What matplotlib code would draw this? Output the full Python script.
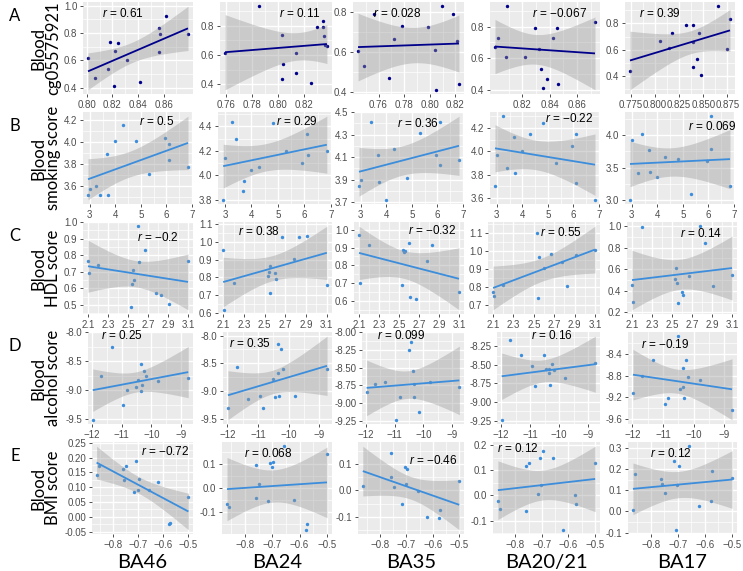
import numpy as np
import matplotlib
matplotlib.use("Agg")
from matplotlib import pyplot as plt

W, H = 743, 571

# Row A: blood cg05575921 (y) against each brain region (x)
cg_x = [
    [0.801, 0.8066, 0.8167, 0.8182, 0.8213, 0.8223, 0.8246, 0.8314, 0.8413, 0.856, 0.857, 0.8565, 0.862, 0.879],
    [0.7595, 0.786, 0.8035, 0.804, 0.8035, 0.8145, 0.814, 0.8255, 0.83, 0.835, 0.835, 0.8355, 0.8368, 0.838],
    [0.744, 0.7488, 0.7567, 0.7679, 0.7723, 0.7783, 0.7985, 0.804, 0.8047, 0.8098, 0.8184, 0.8213, 0.8227],
    [0.80, 0.802, 0.808, 0.809, 0.822, 0.829, 0.832, 0.8336, 0.835, 0.8378, 0.8423, 0.845, 0.846, 0.873],
    [0.7743, 0.805, 0.815, 0.818, 0.8327, 0.839, 0.8393, 0.8393, 0.844, 0.8457, 0.8477, 0.865, 0.8743, 0.8777],
]
cg_y = [
    [0.615, 0.473, 0.534, 0.734, 0.41, 0.671, 0.729, 0.605, 0.441, 0.834, 0.79, 0.663, 0.929, 0.79],
    [0.616, 0.934, 0.736, 0.536, 0.439, 0.611, 0.475, 0.409, 0.791, 0.834, 0.791, 0.732, 0.671, 0.66],
    [0.605, 0.53, 0.79, 0.47, 0.665, 0.73, 0.725, 0.61, 0.41, 0.83, 0.79, 0.655, 0.44],
    [0.67, 0.73, 0.61, 0.93, 0.605, 0.79, 0.66, 0.53, 0.41, 0.47, 0.73, 0.79, 0.44, 0.83],
    [0.44, 0.67, 0.615, 0.73, 0.79, 0.79, 0.66, 0.47, 0.53, 0.73, 0.41, 0.93, 0.605, 0.83],
]

# Rows B-E: shared x per row, one y list per brain region (None = not shown)
smoking_x = [2.93, 3.0, 3.25, 3.4, 3.67, 3.7, 3.97, 4.29, 4.8, 5.32, 5.93, 6.1, 6.12, 6.85]
smoking_y = [
    [3.52, 3.57, 3.60, 3.52, 3.885, 3.52, 4.01, 4.15, 4.01, 3.705, 4.035, 3.98, 3.83, 3.775],
    [3.80, 4.14, 4.44, 4.30, 3.87, 3.95, 4.04, 4.07, 4.43, 4.20, 4.10, 4.34, 4.17, 4.20],
    [3.84, 3.90, None, 4.41, 4.115, 3.88, 3.72, 4.17, 3.915, 4.315, 4.12, 4.41, 4.025, 4.075],
    [3.705, 3.97, 4.30, 3.86, 4.12, 3.81, 4.005, 4.145, 4.24, 3.90, 4.045, 4.145, 3.73, 3.585],
    [3.01, 3.92, 3.42, 4.015, 3.78, 3.44, 3.36, 3.67, 3.63, 3.10, 3.60, 4.29, 3.79, 3.22],
]

hdl_x = [2.1, 2.107, 2.2, 2.53, 2.54, 2.55, 2.555, 2.6, 2.605, 2.67, 2.78, 2.83, 2.91, 3.1]
hdl_y = [
    [0.766, 0.696, 0.74, 0.49, 0.625, 0.71, 0.65, 0.975, 0.762, 0.83, 0.57, 0.56, 0.505, 0.766],
    [0.955, 0.618, 0.77, 0.81, 0.83, 0.865, 0.715, 0.825, 0.79, 1.03, 0.905, 1.03, 1.035, 0.76],
    [0.968, 0.70, 0.916, 0.688, 0.884, 0.875, 0.878, 0.925, 0.622, 0.613, 0.822, 0.912, None, 0.65],
    [0.769, 0.748, 0.812, 1.10, 0.738, 0.965, None, 0.904, None, 0.986, 0.937, 0.803, 0.977, 1.007],
    [0.45, 0.30, 0.99, 0.51, 0.61, 0.47, 0.29, 0.39, 0.36, 0.54, 1.0, 0.84, 0.44, 0.545],
]

alcohol_x = [-11.98, -11.7, -11.33, -10.95, -10.83, -10.52, -10.44, -10.35, -10.34, -10.32, -10.26, -10.17, -9.78, -8.75]
alcohol_y = [
    [-9.52, -8.765, -8.26, -9.25, -8.99, -8.94, -8.83, -8.555, -9.015, -8.91, -8.665, -8.755, -8.845, -8.79],
    [-9.30, -8.565, -9.15, -9.09, -9.31, -8.78, -9.10, -8.16, -8.68, -9.09, -8.25, -8.60, -9.09, -8.61],
    [-8.85, -8.73, -8.70, -9.24, -8.92, -8.25, -8.14, -8.55, -8.73, -8.92, None, -9.13, -8.70, -8.77],
    [-9.24, -8.16, -8.37, -8.51, -8.78, -8.37, -8.55, -8.55, -8.61, -8.77, -8.49, -8.57, -8.68, -8.48],
    [-9.116, -8.806, -8.52, -9.318, -9.217, -8.076, -9.046, -8.653, -9.01, -9.217, -8.506, -8.835, -8.884, -9.442],
]

bmi_x = [-0.865, -0.857, -0.76, -0.758, -0.748, -0.715, -0.707, -0.702, -0.697, -0.657, -0.622, -0.577, -0.572, -0.5]
bmi_y = [
    [0.141, 0.171, 0.162, 0.125, 0.172, 0.083, 0.188, 0.089, 0.127, 0.091, 0.119, -0.026, -0.022, 0.068],
    [-0.066, -0.08, 0.097, -0.041, 0.017, -0.055, 0.104, 0.086, 0.110, 0.174, -0.048, -0.174, -0.149, 0.143],
    [0.017, None, 0.144, 0.051, 0.0125, -0.053, 0.089, 0.026, 0.082, -0.001, -0.10, -0.106, -0.073, 0.0375],
    [-0.024, -0.056, 0.117, -0.063, 0.129, 0.004, 0.147, 0.043, 0.176, 0.149, -0.137, 0.003, -0.036, 0.129],
    [0.008, 0.176, 0.155, 0.131, 0.085, 0.237, -0.087, 0.123, 0.216, 0.308, 0.027, 0.05, 0.19, 0.158],
]

r_labels = [
    ["0.61", "0.11", "0.028", "\u22120.067", "0.39"],
    ["0.5", "0.29", "0.36", "\u22120.22", "0.069"],
    ["\u22120.2", "0.38", "\u22120.32", "0.55", "0.14"],
    ["0.25", "0.35", "0.099", "0.16", "\u22120.19"],
    ["\u22120.72", "0.068", "\u22120.46", "0.12", "0.12"],
]

row_letters = ["A", "B", "C", "D", "E"]
row_titles = ["Blood\ncg05575921", "Blood\nsmoking score", "Blood\nHDL score",
              "Blood\nalcohol score", "Blood\nBMI score"]
col_titles = ["BA46", "BA24", "BA35", "BA20/21", "BA17"]

cg_xticks = [[0.80, 0.82, 0.84, 0.86], [0.76, 0.78, 0.80, 0.82], [0.76, 0.78, 0.80, 0.82],
             [0.82, 0.84, 0.86], [0.775, 0.800, 0.825, 0.850, 0.875]]
cg_yticks = [[0.4, 0.6, 0.8, 1.0], [0.4, 0.6, 0.8], [0.4, 0.6, 0.8], [0.4, 0.6, 0.8], [0.4, 0.6, 0.8]]
smoking_xticks = [3, 4, 5, 6, 7]
smoking_yticks = [[3.6, 3.8, 4.0, 4.2], [3.8, 4.0, 4.2, 4.4], [3.7, 3.9, 4.1, 4.3, 4.5],
                  [3.6, 3.8, 4.0, 4.2], [3.0, 3.5, 4.0]]
hdl_xticks = [2.1, 2.3, 2.5, 2.7, 2.9, 3.1]
hdl_yticks = [[0.5, 0.6, 0.7, 0.8, 0.9, 1.0], [0.6, 0.7, 0.8, 0.9, 1.0, 1.1], [0.6, 0.7, 0.8, 0.9, 1.0],
              [0.7, 0.8, 0.9, 1.0, 1.1], [0.2, 0.4, 0.6, 0.8, 1.0]]
alcohol_xticks = [-12, -11, -10, -9]
alcohol_yticks = [[-9.5, -9.0, -8.5, -8.0], [-9.5, -9.0, -8.5, -8.0],
                  [-9.25, -9.0, -8.75, -8.5, -8.25, -8.0], [-9.25, -9.0, -8.75, -8.5, -8.25],
                  [-9.6, -9.2, -8.8, -8.4]]
bmi_xticks = [-0.8, -0.7, -0.6, -0.5]
bmi_yticks = [[-0.05, 0.0, 0.05, 0.1, 0.15, 0.2, 0.25], [-0.1, 0.0, 0.1], [-0.1, 0.0, 0.1],
              [-0.1, 0.0, 0.1, 0.2], [-0.1, 0.0, 0.1, 0.2, 0.3]]

# where the r annotation sits in each panel (axes fraction)
r_pos = [
    [(0.36, 0.87), (0.71, 0.87), (0.40, 0.87), (0.63, 0.87), (0.32, 0.87)],
    [(0.67, 0.90), (0.69, 0.90), (0.58, 0.88), (0.72, 0.93), (0.79, 0.84)],
    [(0.68, 0.83), (0.36, 0.90), (0.71, 0.91), (0.65, 0.89), (0.67, 0.88)],
    [(0.32, 0.96), (0.25, 0.88), (0.38, 0.96), (0.53, 0.96), (0.34, 0.86)],
    [(0.72, 0.90), (0.42, 0.88), (0.71, 0.80), (0.23, 0.93), (0.39, 0.88)],
]

T_CRIT = {10: 2.228, 11: 2.201, 12: 2.179, 13: 2.160}

# panel boxes in pixels (left, right) per row; each sub-plot was laid out on its own
panel_left = [[83, 220, 353, 490, 625],
              [83, 218, 354, 490, 625],
              [83, 218, 354, 488, 627],
              [88, 223, 362, 497, 628],
              [92, 222, 358, 493, 628]]
panel_right = [[193, 332, 464, 600, 735],
               [193, 332, 464, 600, 735],
               [193, 332, 464, 600, 737],
               [193, 332, 464, 600, 737],
               [193, 332, 464, 600, 737]]
row_top = [2, 112, 222, 332, 442]
row_height = 92

NAVY = "#00008B"
BLUE = "#3C8DDB"

plt.rcParams["mathtext.fontset"] = "custom"
plt.rcParams["mathtext.it"] = "Liberation Sans:italic"
plt.rcParams["mathtext.rm"] = "Liberation Sans"


def _decimals(vals):
    for d in range(5):
        if all(abs(round(v, d) - v) < 1e-9 for v in vals):
            return d
    return 4


def _fmt(vals, minus):
    d = _decimals(vals)
    out = []
    for v in vals:
        s = f"{v:.{d}f}"
        if s.startswith("-"):
            s = minus + s[1:]
        out.append(s)
    return out


def _fit_band(x, y, n_grid=80):
    x = np.asarray(x, dtype=float)
    y = np.asarray(y, dtype=float)
    n = len(x)
    slope, icpt = np.polyfit(x, y, 1)
    xs = np.linspace(x.min(), x.max(), n_grid)
    fit = icpt + slope * xs
    resid = y - (icpt + slope * x)
    s = np.sqrt(np.sum(resid ** 2) / (n - 2))
    sxx = np.sum((x - x.mean()) ** 2)
    se = s * np.sqrt(1.0 / n + (xs - x.mean()) ** 2 / sxx)
    t = T_CRIT[n - 2]
    return xs, fit, fit - t * se, fit + t * se


def _minor(ticks, lo, hi):
    step = ticks[1] - ticks[0]
    cand = [t - step / 2 for t in ticks] + [ticks[-1] + step / 2]
    return [c for c in cand if lo <= c <= hi]


def draw_panel(ax, x, y, color, xticks, yticks, rtext, rpos):
    pts = [(a, b) for a, b in zip(x, y) if b is not None]
    px = np.array([p[0] for p in pts])
    py = np.array([p[1] for p in pts])

    xs, fit, lo, hi = _fit_band(px, py)

    ax.set_facecolor("#EBEBEB")
    for sp in ax.spines.values():
        sp.set_visible(False)

    ax.scatter(px, py, s=6, color=color, lw=0, zorder=2)
    ax.fill_between(xs, lo, hi, color="#999999", alpha=0.4, lw=0, zorder=3)
    ax.plot(xs, fit, color=color, lw=1.3, zorder=4, solid_capstyle="butt")

    xr = px.max() - px.min()
    ymin = min(py.min(), lo.min())
    ymax = max(py.max(), hi.max())
    yr = ymax - ymin
    xlim = (px.min() - 0.05 * xr, px.max() + 0.05 * xr)
    ylim = (ymin - 0.05 * yr, ymax + 0.05 * yr)
    ax.set_xlim(*xlim)
    ax.set_ylim(*ylim)

    ax.set_xticks(xticks)
    ax.set_xticklabels(_fmt(xticks, "\u2212"))
    ax.set_yticks(yticks)
    ax.set_yticklabels(_fmt(yticks, "-"))
    ax.set_xticks(_minor(xticks, *xlim), minor=True)
    ax.set_yticks(_minor(yticks, *ylim), minor=True)

    ax.grid(which="major", color="white", lw=1.0, zorder=0)
    ax.grid(which="minor", color="white", lw=0.5, zorder=0)
    ax.set_axisbelow(True)
    ax.tick_params(which="major", direction="out", length=2.5, width=0.6, color="#333333",
                   labelsize=7, labelcolor="#4D4D4D", pad=1.5)
    ax.tick_params(which="minor", length=0)
    for lab in ax.get_xticklabels() + ax.get_yticklabels():
        lab.set_family("Liberation Sans")

    ax.text(rpos[0], rpos[1], "$r$ = " + rtext, transform=ax.transAxes, ha="center", va="center",
            fontsize=8.5, family="Liberation Sans", color="black", zorder=5)


fig = plt.figure(figsize=(W / 100, H / 100), dpi=100)

rows = [
    (None, cg_y, cg_xticks, cg_yticks, NAVY),
    (smoking_x, smoking_y, [smoking_xticks] * 5, smoking_yticks, BLUE),
    (hdl_x, hdl_y, [hdl_xticks] * 5, hdl_yticks, BLUE),
    (alcohol_x, alcohol_y, [alcohol_xticks] * 5, alcohol_yticks, BLUE),
    (bmi_x, bmi_y, [bmi_xticks] * 5, bmi_yticks, BLUE),
]

for i, (xs_row, ys_row, xt_row, yt_row, color) in enumerate(rows):
    for j in range(5):
        left = panel_left[i][j]
        width = panel_right[i][j] - left
        bottom = 1 - (row_top[i] + row_height) / H
        ax = fig.add_axes([left / W, bottom, width / W, row_height / H])
        xdata = cg_x[j] if xs_row is None else xs_row
        draw_panel(ax, xdata, ys_row[j], color, xt_row[j], yt_row[j], r_labels[i][j], r_pos[i][j])

    yc = 1 - (row_top[i] + row_height / 2) / H
    fig.text(46 / W, yc, row_titles[i], rotation=90, ha="center", va="center",
             fontsize=12, family="Lato", linespacing=0.9)
    fig.text(15 / W, 1 - (row_top[i] + 14) / H, row_letters[i], ha="center", va="center",
             fontsize=12, family="Lato")

for j, title in enumerate(col_titles):
    xc = (panel_left[4][j] + panel_right[4][j]) / 2 / W
    fig.text(xc, 1 - 568 / H, title, ha="center", va="baseline", fontsize=14.5, family="Lato")

fig.savefig("out.png", dpi=100)
